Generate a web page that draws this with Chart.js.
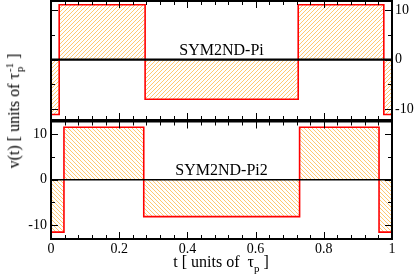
<!DOCTYPE html>
<html>
<head>
<meta charset="utf-8">
<script src="https://cdn.jsdelivr.net/npm/chart.js@4.4.1/dist/chart.umd.min.js"></script>
<style>
  body { margin: 0; background: #fff; }
  #wrap { position: relative; width: 415px; height: 278px; overflow: hidden; font-family: 'Liberation Serif', 'Times New Roman', serif; color: #000; }
  canvas { position: absolute; left: 0; }
  #topChart { top: 0; }
  #bottomChart { top: 120px; }
  .ttl { position: absolute; white-space: nowrap; font-size: 16px; line-height: 1; }
  #xTitle { left: 221px; top: 264px; transform: translate(-50%, -50%); }
  #yTitle { left: 15px; top: 111px; transform: translate(-50%, -50%) rotate(-90deg); }
  .ss { display: inline-block; vertical-align: middle; line-height: 0.9; font-size: 11px; text-align: left; margin-left: 1px; }
  sub { font-size: 11px; }
</style>
</head>
<body>
<div id="wrap">
  <canvas id="topChart" width="415" height="122"></canvas>
  <canvas id="bottomChart" width="415" height="158"></canvas>
  <div class="ttl" id="xTitle">t [ units of &nbsp;τ<sub>p</sub> ]</div>
  <div class="ttl" id="yTitle">v(t) [ units of τ<span class="ss">-1<br>p</span> ]</div>
</div>
<script>
// dane
var topLabel = 'SYM2ND-Pi';
var topT = [0, 0.024, 0.276, 0.725, 0.976, 1];
var topV = [-11.1, 11.1, -8.0, 11.1, -11.1, -11.1];

var bottomLabel = 'SYM2ND-Pi2';
var bottomT = [0, 0.038, 0.272, 0.729, 0.962, 1];
var bottomV = [-11.5, 11.5, -8.1, 11.5, -11.5, -11.5];

var xTickVals = [0, 0.2, 0.4, 0.6, 0.8, 1];
var yTickVals = [-10, 0, 10];

var serif = "'Liberation Serif', 'Times New Roman', serif";

function toPoints(ts, vs) {
    return ts.map(function (t, i) { return { x: t, y: vs[i] }; });
}

// kreskowanie pod krzywa (tworzone leniwie, na kontekscie wykresu)
function hatchFor(dir) {
    var cache = null;
    return function (context) {
        if (cache) return cache;
        var c = document.createElement('canvas');
        c.width = 8; c.height = 8;
        var g = c.getContext('2d');
        g.fillStyle = '#ffffff';
        g.fillRect(0, 0, 8, 8);
        g.fillStyle = 'rgb(255,200,112)';
        for (var i = 0; i < 8; i++) {
            var j = (dir === '/') ? (7 - i) : i;
            g.fillRect(i, j, 1, 1);
            g.fillRect(i, (j + 4) % 8, 1, 1);
        }
        cache = context.chart.ctx.createPattern(c, 'repeat');
        return cache;
    };
}

// ramka, znaczniki do srodka i podpis panelu
function decor(label, frameW) {
    return {
        id: 'decor',
        afterDatasetsDraw: function (chart) {
            var ctx = chart.ctx, a = chart.chartArea;
            var xs = chart.scales.x, ys = chart.scales.y;
            ctx.save();
            ctx.strokeStyle = '#000';
            ctx.lineWidth = 1;
            ctx.beginPath();
            for (var i = 0; i <= 25; i++) {
                var px = Math.round(xs.getPixelForValue(i * 0.04)) + 0.5;
                var len = (i % 5 === 0) ? 7 : 4;
                ctx.moveTo(px, a.bottom); ctx.lineTo(px, a.bottom - len);
                ctx.moveTo(px, a.top); ctx.lineTo(px, a.top + len);
            }
            [-10, -5, 0, 5, 10].forEach(function (v) {
                var py = Math.round(ys.getPixelForValue(v)) + 0.5;
                var len = (v % 10 === 0) ? 7 : 4;
                ctx.moveTo(a.left, py); ctx.lineTo(a.left + len, py);
                ctx.moveTo(a.right, py); ctx.lineTo(a.right - len, py);
            });
            ctx.stroke();
            ctx.lineWidth = frameW;
            ctx.strokeRect(a.left, a.top, a.right - a.left, a.bottom - a.top);
            ctx.fillStyle = '#000';
            ctx.font = '16px ' + serif;
            ctx.textAlign = 'center';
            ctx.textBaseline = 'alphabetic';
            ctx.fillText(label, xs.getPixelForValue(0.5), ys.getPixelForValue(0) - 5);
            ctx.restore();
        }
    };
}

function datasets(ts, vs, hatch, zeroW) {
    return [{
        data: [{ x: 0, y: 0 }, { x: 1, y: 0 }],
        borderColor: '#000',
        borderWidth: zeroW,
        pointRadius: 0,
        fill: false
    }, {
        data: toPoints(ts, vs),
        borderColor: '#ff0000',
        borderWidth: 1.6,
        stepped: 'before',
        pointRadius: 0,
        fill: 'origin',
        backgroundColor: hatch
    }];
}

var tickFont = { family: serif, size: 14 };
var noGrid = { display: false, drawTicks: false };
function fixY(w) {
    return function (s) { s.width = w; s.paddingTop = 0; s.paddingBottom = 0; };
}
function yTicks(s) { s.ticks = yTickVals.map(function (v) { return { value: v }; }); }
function plain(v) { return String(v); }

// gorny panel
var chartTop = new Chart(document.getElementById('topChart').getContext('2d'), {
    type: 'line',
    data: { datasets: datasets(topT, topV, hatchFor('/'), 2.2) },
    options: {
        responsive: false,
        animation: false,
        layout: { padding: { top: 1, bottom: 2, left: 0, right: 0 } },
        plugins: { legend: { display: false }, tooltip: { enabled: false } },
        scales: {
            x: { type: 'linear', min: 0, max: 1, display: false },
            y: {
                position: 'left', min: -12.2, max: 11.85,
                ticks: { display: false },
                grid: noGrid, border: { display: false },
                afterFit: fixY(51)
            },
            y2: {
                position: 'right', min: -12.2, max: 11.85,
                afterBuildTicks: yTicks,
                ticks: { font: tickFont, color: '#000', padding: 3, callback: plain },
                grid: noGrid, border: { display: false },
                afterFit: fixY(23)
            }
        }
    },
    plugins: [decor(topLabel, 2)]
});

// dolny panel
var chartBottom = new Chart(document.getElementById('bottomChart').getContext('2d'), {
    type: 'line',
    data: { datasets: datasets(bottomT, bottomV, hatchFor('\\'), 1.6) },
    options: {
        responsive: false,
        animation: false,
        layout: { padding: { top: 1.5, bottom: 0, left: 0, right: 23 } },
        plugins: { legend: { display: false }, tooltip: { enabled: false } },
        scales: {
            x: {
                type: 'linear', min: 0, max: 1,
                afterBuildTicks: function (s) { s.ticks = xTickVals.map(function (v) { return { value: v }; }); },
                ticks: { font: tickFont, color: '#000', padding: 2, maxRotation: 0, callback: plain },
                grid: noGrid, border: { display: false },
                afterFit: function (s) { s.height = 39; s.paddingLeft = 0; s.paddingRight = 0; }
            },
            y: {
                position: 'left', min: -13, max: 12.75,
                afterBuildTicks: yTicks,
                ticks: { font: tickFont, color: '#000', padding: 4, callback: plain },
                grid: noGrid, border: { display: false },
                afterFit: fixY(51)
            }
        }
    },
    plugins: [decor(bottomLabel, 2)]
});
</script>
</body>
</html>
